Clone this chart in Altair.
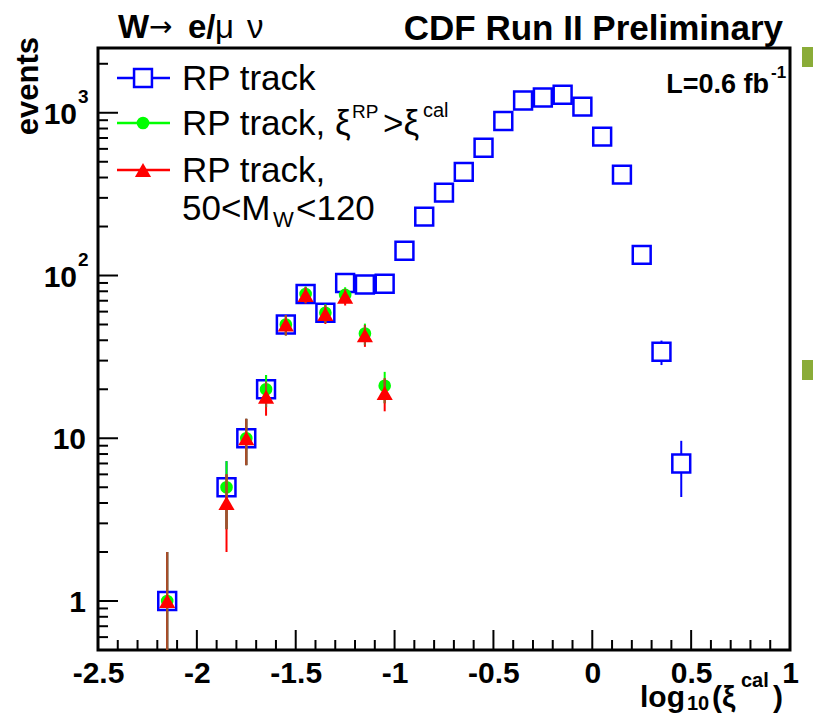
import altair as alt
import numpy as np
import pandas as pd

FONT = "Liberation Sans"
W, H = 692, 602

# ---------------- data ----------------
x_centers = [-2.15, -1.85, -1.75, -1.65, -1.55, -1.45, -1.35, -1.25, -1.15, -1.05,
             -0.95, -0.85, -0.75, -0.65, -0.55, -0.45, -0.35, -0.25, -0.15, -0.05,
             0.05, 0.15, 0.25, 0.35, 0.45]
blue_counts = [1, 5, 10, 20, 50, 77, 59, 90, 88, 89,
               142, 230, 323, 433, 610, 890, 1190, 1240, 1290, 1090,
               713, 417, 134, 34, 7]
green_x = [-2.15, -1.85, -1.75, -1.65, -1.55, -1.45, -1.35, -1.25, -1.15, -1.05]
green_counts = [1, 5, 10, 20, 50, 77, 59, 76, 44, 21]
red_counts = [1, 4, 10, 18, 50, 76, 58, 74, 43, 19]

x_ticks_major = [-2.5, -2.0, -1.5, -1.0, -0.5, 0.0, 0.5, 1.0]
x_ticks_minor = [-2.4, -2.3, -2.2, -2.1, -1.9, -1.8, -1.7, -1.6, -1.4, -1.3, -1.2, -1.1,
                 -0.9, -0.8, -0.7, -0.6, -0.4, -0.3, -0.2, -0.1, 0.1, 0.2, 0.3, 0.4,
                 0.6, 0.7, 0.8, 0.9]
y_ticks_major = [1, 10, 100, 1000]
y_ticks_minor = [0.6, 0.7, 0.8, 0.9, 2, 3, 4, 5, 6, 7, 8, 9,
                 20, 30, 40, 50, 60, 70, 80, 90,
                 200, 300, 400, 500, 600, 700, 800, 900, 2000]
y_labels_plain = ["1", "10"]
y_labels_plain_at = [1, 10]
y_labels_pow_at = [100, 1000]
y_labels_pow_sup = ["2", "3"]

BLUE, GREEN, RED, BROWN = "#0000ff", "#00ff00", "#ff0000", "#a0522d"

# ---------------- helpers ----------------
xs = alt.Scale(domain=[-2.5, 1.0], nice=False, zero=False)
ys = alt.Scale(type="log", domain=[0.5, 2500], nice=False)
xaxis = alt.Axis(values=x_ticks_major, labelExpr="'' + datum.value", ticks=False,
                 domain=False, grid=False, labelFont=FONT, labelFontSize=30,
                 labelFontWeight="bold", labelColor="black", labelPadding=8,
                 labelFlush=False, labelOverlap=False, title=None)


def X(f):
    return alt.X(f, type="quantitative", scale=xs, axis=xaxis)


def Y(f):
    return alt.Y(f, type="quantitative", scale=ys, axis=None)


def errs(x, n):
    d = pd.DataFrame({"x": x, "n": n})
    d["lo"] = np.maximum(d["n"] - np.sqrt(d["n"]), 0.3)
    d["hi"] = d["n"] + np.sqrt(d["n"])
    return d


blue = errs(x_centers, blue_counts)
green = errs(green_x, green_counts)
red = errs(green_x, red_counts)
overlap = pd.DataFrame({"x": green_x,
                        "lo": np.maximum(green["lo"], red["lo"]),
                        "hi": np.minimum(green["hi"], red["hi"])})

one = pd.DataFrame({"a": [0]})


def txt(s, x, y, size, weight="normal", align="left", baseline="alphabetic", angle=0,
        color="black", font=FONT):
    return alt.Chart(one).mark_text(text=s, font=font, fontSize=size, fontWeight=weight,
                                    align=align, baseline=baseline, angle=angle,
                                    color=color).encode(x=alt.value(x), y=alt.value(y))


layers = []

# ---------------- axis ticks (inside the frame) ----------------
layers.append(alt.Chart(pd.DataFrame({"v": y_ticks_major})).mark_rule(color="black", strokeWidth=2)
              .encode(y=Y("v"), x=alt.value(0), x2=alt.value(20)))
layers.append(alt.Chart(pd.DataFrame({"v": y_ticks_minor})).mark_rule(color="black", strokeWidth=2)
              .encode(y=Y("v"), x=alt.value(0), x2=alt.value(10)))
layers.append(alt.Chart(pd.DataFrame({"v": x_ticks_major})).mark_rule(color="black", strokeWidth=2)
              .encode(x=X("v"), y=alt.value(H), y2=alt.value(H - 20)))
layers.append(alt.Chart(pd.DataFrame({"v": x_ticks_minor})).mark_rule(color="black", strokeWidth=2)
              .encode(x=X("v"), y=alt.value(H), y2=alt.value(H - 10)))

# y tick labels
layers.append(alt.Chart(pd.DataFrame({"v": y_labels_plain_at, "t": y_labels_plain}))
              .mark_text(font=FONT, fontSize=30, fontWeight="bold", align="right",
                         baseline="middle", dy=2, color="black")
              .encode(y=Y("v"), x=alt.value(-12), text="t:N"))
layers.append(alt.Chart(pd.DataFrame({"v": y_labels_pow_at}))
              .mark_text(text="10", font=FONT, fontSize=30, fontWeight="bold", align="right",
                         baseline="middle", dy=2, color="black")
              .encode(y=Y("v"), x=alt.value(-21)))
layers.append(alt.Chart(pd.DataFrame({"v": y_labels_pow_at, "s": y_labels_pow_sup}))
              .mark_text(font=FONT, fontSize=19, fontWeight="bold", align="left",
                         baseline="alphabetic", dy=-10, color="black")
              .encode(y=Y("v"), x=alt.value(-20), text="s:N"))

# ---------------- data ----------------
layers.append(alt.Chart(blue).mark_rule(color=BLUE, strokeWidth=2, clip=True)
              .encode(x=X("x"), y=Y("lo"), y2="hi"))
layers.append(alt.Chart(blue).mark_point(shape="square", fill="white", fillOpacity=1,
                                         stroke=BLUE, strokeWidth=2.5, size=320, opacity=1)
              .encode(x=X("x"), y=Y("n")))
layers.append(alt.Chart(green).mark_rule(color=GREEN, strokeWidth=2, clip=True)
              .encode(x=X("x"), y=Y("lo"), y2="hi"))
layers.append(alt.Chart(green).mark_circle(color=GREEN, size=160, opacity=1)
              .encode(x=X("x"), y=Y("n")))
layers.append(alt.Chart(red).mark_rule(color=RED, strokeWidth=2, clip=True)
              .encode(x=X("x"), y=Y("lo"), y2="hi"))
layers.append(alt.Chart(overlap).mark_rule(color=BROWN, strokeWidth=2, clip=True)
              .encode(x=X("x"), y=Y("lo"), y2="hi"))
layers.append(alt.Chart(red).mark_point(shape="triangle-up", filled=True, color=RED,
                                        size=260, opacity=1)
              .encode(x=X("x"), y=Y("n")))

# ---------------- legend ----------------
for yy, col in [(30, BLUE), (75, GREEN), (122, RED)]:
    layers.append(alt.Chart(one).mark_rule(color=col, strokeWidth=2.5)
                  .encode(x=alt.value(19), x2=alt.value(72), y=alt.value(yy)))
layers.append(alt.Chart(one).mark_point(shape="square", fill="white", fillOpacity=1, stroke=BLUE,
                                        strokeWidth=2.5, size=320, opacity=1)
              .encode(x=alt.value(45), y=alt.value(30)))
layers.append(alt.Chart(one).mark_circle(color=GREEN, size=160, opacity=1)
              .encode(x=alt.value(45), y=alt.value(75)))
layers.append(alt.Chart(one).mark_point(shape="triangle-up", filled=True, color=RED, size=260,
                                        opacity=1)
              .encode(x=alt.value(45), y=alt.value(122)))

layers += [
    txt("RP track", 84, 42, 35),
    txt("RP track, ξ", 84, 87, 35),
    txt("RP", 254, 70, 19),
    txt(">ξ", 285, 87, 35),
    txt("cal", 325, 69, 20),
    txt("RP track,", 84, 134, 35),
    txt("50<M", 84, 172, 35),
    txt("W", 175, 179, 22),
    txt("<120", 198, 172, 35),
]

# ---------------- titles / annotations ----------------
layers += [
    txt("W", 20, -10, 33, weight="bold"),
    txt("→", 51, -12, 28, font="DejaVu Sans"),
    txt("e/", 90, -10, 33, weight="bold"),
    txt("μ", 117, -10, 33),
    txt("ν", 149, -10, 33),
    txt("CDF Run II Preliminary", 685, -8, 35, weight="bold", align="right"),
    txt("L=0.6 fb", 671, 45, 27, weight="bold", align="right"),
    txt("-1", 673, 30, 17, weight="bold"),
    txt("events", -60, -11, 31, weight="bold", align="right", angle=270),
    txt("log", 542, 659, 30, weight="bold"),
    txt("10", 589, 662, 20, weight="bold"),
    txt("(ξ", 614, 659, 30, weight="bold"),
    txt("cal", 643, 639, 20, weight="bold"),
    txt(")", 675, 659, 30, weight="bold"),
]

# green bullets outside the frame (page decoration)
for yy in [9, 322]:
    layers.append(alt.Chart(one).mark_square(color="#8aac38", size=400, opacity=1)
                  .encode(x=alt.value(714), y=alt.value(yy)))

chart = alt.layer(*layers).properties(
    width=W, height=H,
    autosize=alt.AutoSizeParams(type="none"),
    padding={"left": 90, "top": 40, "right": 23, "bottom": 64},
    background="white",
).configure_view(stroke="black", strokeWidth=3)

chart.save("out.html", embed_options={"renderer": "svg", "actions": False})
